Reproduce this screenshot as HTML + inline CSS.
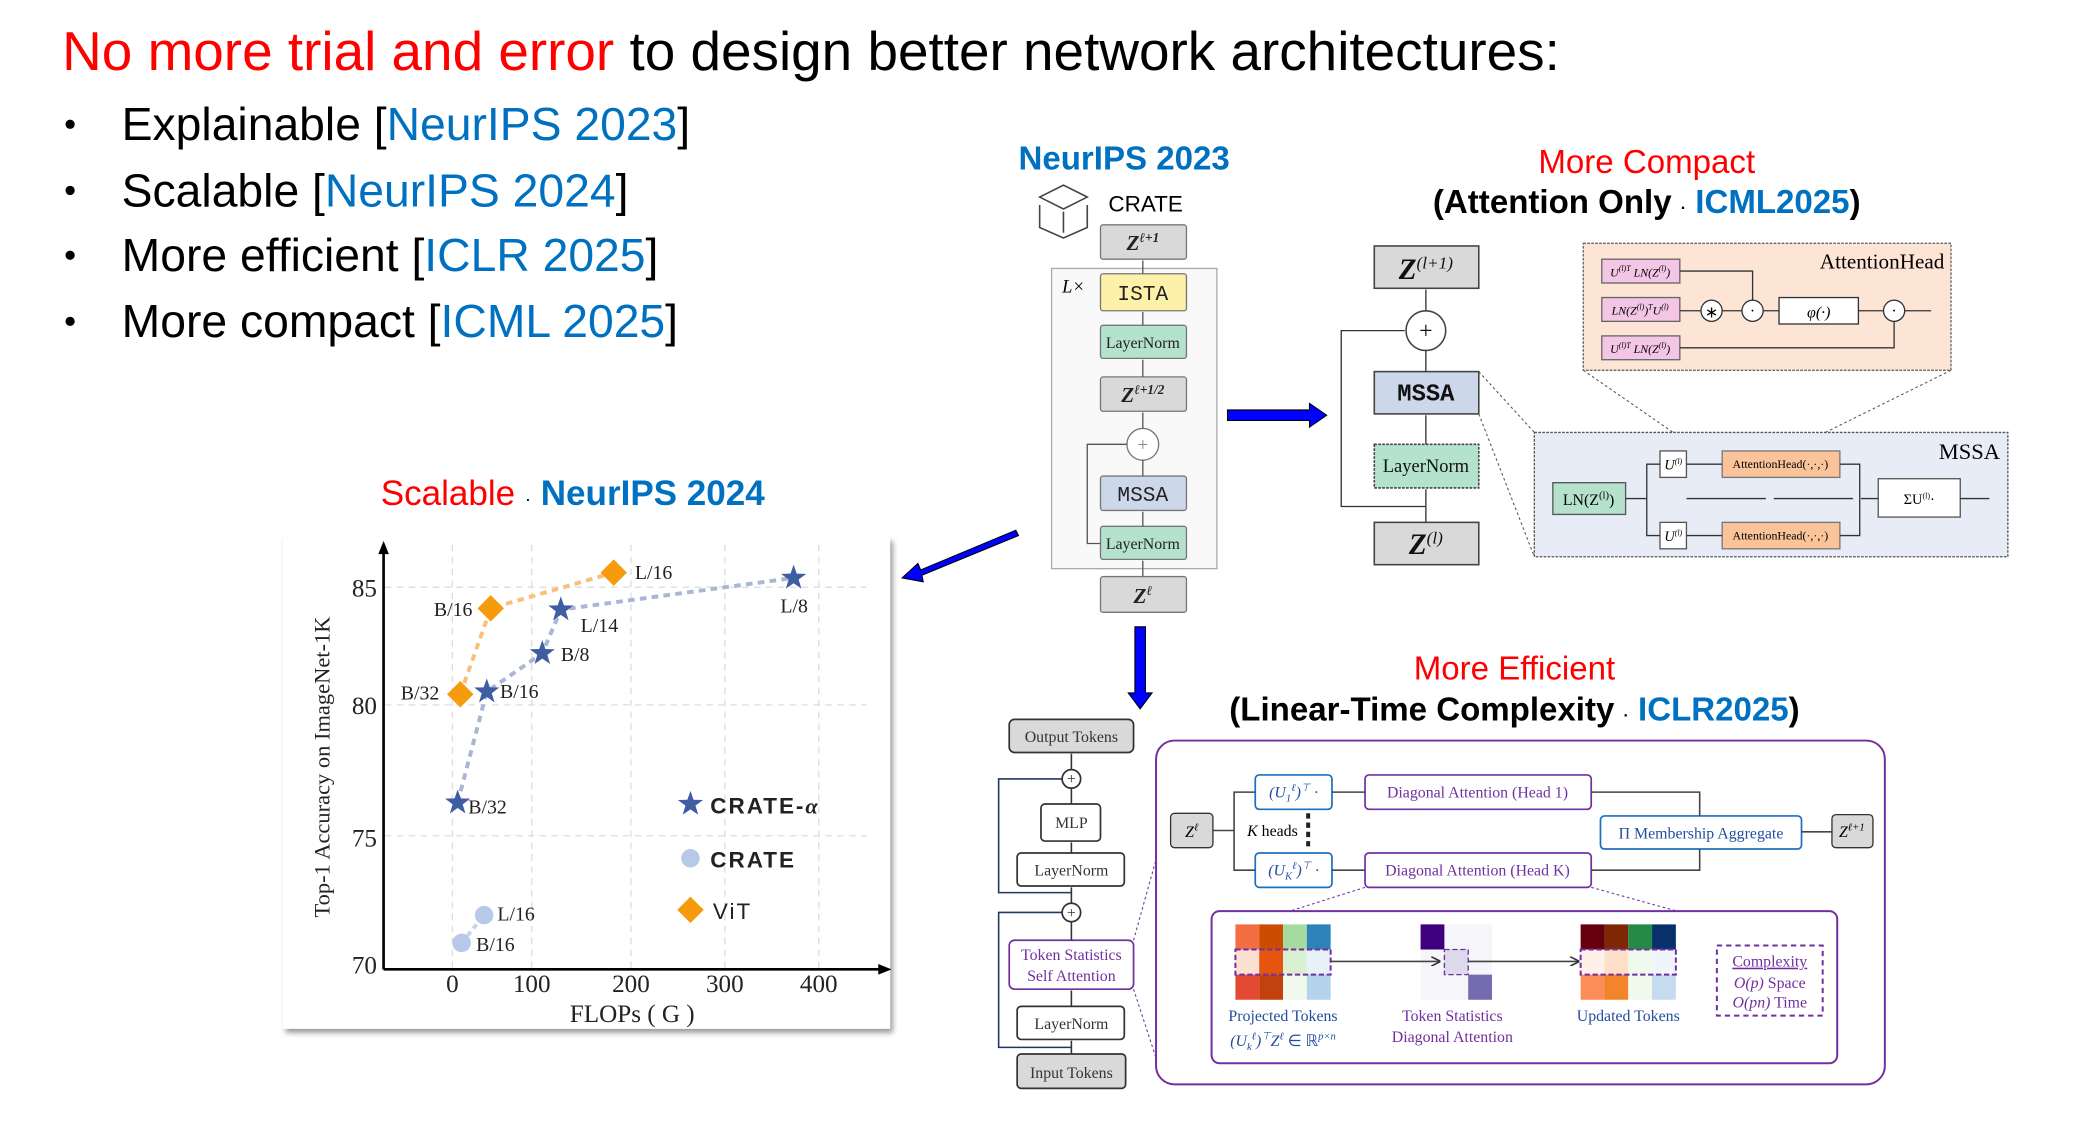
<!DOCTYPE html>
<html><head><meta charset="utf-8"><style>
html,body{margin:0;padding:0;background:#fff;width:2074px;height:1132px;overflow:hidden}
svg{display:block}
.s{font-family:"Liberation Sans",Arial,sans-serif}
.r{font-family:"Liberation Serif","Times New Roman",serif}
.m{font-family:"Liberation Mono",monospace}
</style></head><body>
<svg width="2074" height="1132" viewBox="0 0 1568 856" preserveAspectRatio="none" xmlns="http://www.w3.org/2000/svg">
<defs>
<polygon id="st" points="0,-10 2.35,-3.24 9.51,-3.09 3.8,1.24 5.88,8.09 0,4 -5.88,8.09 -3.8,1.24 -9.51,-3.09 -2.35,-3.24" fill="#3e5da3"/>
<polygon id="dm" points="0,-10 10,0 0,10 -10,0" fill="#f59b0c"/>
<marker id="ap" markerWidth="6" markerHeight="6" refX="5" refY="3" orient="auto"><path d="M0,0 L6,3 L0,6" fill="none" stroke="#333" stroke-width="1"/></marker>
<filter id="sh"><feDropShadow dx="2" dy="3" stdDeviation="2" flood-color="#999"/></filter>
</defs>

<!-- Title -->
<text x="47" y="53" class="s" font-size="41.5" fill="#000"><tspan fill="#f00">No more trial and error</tspan> to design better network architectures:</text>
<g class="s" font-size="35">
<circle cx="53" cy="94" r="3.5" fill="#000"/><circle cx="53" cy="144" r="3.5" fill="#000"/><circle cx="53" cy="193" r="3.5" fill="#000"/><circle cx="53" cy="243" r="3.5" fill="#000"/>
<text x="92" y="106">Explainable [<tspan fill="#0070c0">NeurIPS 2023</tspan>]</text>
<text x="92" y="156">Scalable [<tspan fill="#0070c0">NeurIPS 2024</tspan>]</text>
<text x="92" y="205">More efficient [<tspan fill="#0070c0">ICLR 2025</tspan>]</text>
<text x="92" y="255">More compact [<tspan fill="#0070c0">ICML 2025</tspan>]</text>
</g>

<!-- Scalable heading -->
<text x="433" y="382" class="s" font-size="26.5" text-anchor="middle"><tspan fill="#f00">Scalable</tspan> <tspan font-size="14">·</tspan> <tspan fill="#0070c0" font-weight="bold">NeurIPS 2024</tspan></text>

<!-- Chart -->
<rect x="214" y="406" width="459" height="372" fill="#fff" filter="url(#sh)"/>
<g stroke="#ddd" stroke-dasharray="5,4" stroke-width="1">
<line x1="291" y1="444" x2="655" y2="444"/><line x1="291" y1="533" x2="655" y2="533"/><line x1="291" y1="632" x2="655" y2="632"/>
<line x1="342" y1="412" x2="342" y2="733"/><line x1="402" y1="412" x2="402" y2="733"/><line x1="477" y1="412" x2="477" y2="733"/><line x1="548" y1="412" x2="548" y2="733"/><line x1="619" y1="412" x2="619" y2="733"/>
</g>
<line x1="290" y1="733" x2="290" y2="416" stroke="#000" stroke-width="2"/>
<polygon points="290,409 286,419 294,419" fill="#000"/>
<line x1="290" y1="733" x2="667" y2="733" stroke="#000" stroke-width="2"/>
<polygon points="674,733 664,729 664,737" fill="#000"/>
<g class="r" font-size="19" fill="#222">
<text x="285" y="451" text-anchor="end">85</text><text x="285" y="540" text-anchor="end">80</text><text x="285" y="640" text-anchor="end">75</text><text x="285" y="736" text-anchor="end">70</text>
<text x="342" y="750" text-anchor="middle">0</text><text x="402" y="750" text-anchor="middle">100</text><text x="477" y="750" text-anchor="middle">200</text><text x="548" y="750" text-anchor="middle">300</text><text x="619" y="750" text-anchor="middle">400</text>
<text x="478" y="773" text-anchor="middle">FLOPs ( G )</text>
<text transform="translate(249,580) rotate(-90)" text-anchor="middle" font-size="17">Top-1 Accuracy on ImageNet-1K</text>
</g>
<polyline points="348,525 371,460 464,433" fill="none" stroke="#f8c07a" stroke-width="3" stroke-dasharray="5,4"/>
<polyline points="346,607 368,523 410,494 424,461 600,437" fill="none" stroke="#a9b6d6" stroke-width="3" stroke-dasharray="5,4"/>
<line x1="349" y1="713" x2="366" y2="692" stroke="#c8d4ec" stroke-width="3" stroke-dasharray="4,3"/>
<use href="#dm" x="348" y="525"/><use href="#dm" x="371" y="460"/><use href="#dm" x="464" y="433"/>
<use href="#st" x="346" y="607"/><use href="#st" x="368" y="523"/><use href="#st" x="410" y="494"/><use href="#st" x="424" y="461"/><use href="#st" x="600" y="437"/>
<circle cx="349" cy="713" r="7" fill="#b8c8e8"/><circle cx="366" cy="692" r="7" fill="#b8c8e8"/>
<g class="r" font-size="15" fill="#222">
<text x="480" y="438">L/16</text><text x="328" y="466">B/16</text><text x="303" y="529">B/32</text>
<text x="590" y="463">L/8</text><text x="439" y="478">L/14</text><text x="424" y="500">B/8</text><text x="378" y="528">B/16</text><text x="354" y="615">B/32</text>
<text x="376" y="696">L/16</text><text x="360" y="719">B/16</text>
</g>
<use href="#st" x="522" y="608"/><circle cx="522" cy="649" r="7" fill="#b8c8e8"/><use href="#dm" x="522" y="688"/>
<g class="s" font-size="17" font-weight="bold" fill="#222" letter-spacing="1.5">
<text x="537" y="615">CRATE-<tspan font-family="Liberation Serif" font-style="italic">α</tspan></text><text x="537" y="656">CRATE</text><text x="539" y="695" font-weight="normal">ViT</text>
</g>

<!-- Blue arrows -->
<polygon points="768,401 696,431 694,426 682,437 698,440 697,435 770,405" fill="#0000ff" stroke="#000" stroke-width="0.8"/>
<polygon points="928,310 990,310 990,305 1003,314 990,323 990,318 928,318" fill="#0000ff" stroke="#000" stroke-width="0.8"/>
<polygon points="858,474 866,474 866,524 871,524 862,536 853,524 858,524" fill="#0000ff" stroke="#000" stroke-width="0.8"/>

<!-- CRATE column -->
<text x="770" y="128" class="s" font-size="25" font-weight="bold" fill="#0070c0">NeurIPS 2023</text>
<g fill="none" stroke="#444" stroke-width="1.2"><polygon points="786,149 804,140 822,149 804,158"/><polyline points="786,155 786,172 804,180 822,172 822,155"/><line x1="804" y1="160" x2="804" y2="176"/></g>
<text x="838" y="160" class="s" font-size="17">CRATE</text>
<rect x="795" y="203" width="125" height="227" fill="#f9f9f9" stroke="#aaa"/>
<text x="803" y="221" class="r" font-size="14" font-style="italic">L×</text>
<g stroke="#777" stroke-width="1">
<rect x="832" y="170" width="65" height="26" rx="2" fill="#d9d9d9"/>
<rect x="832" y="207" width="65" height="28" rx="2" fill="#fdf0a8"/>
<rect x="832" y="246" width="65" height="25" rx="2" fill="#b4e2cc"/>
<rect x="832" y="285" width="65" height="26" rx="2" fill="#d9d9d9"/>
<circle cx="864" cy="336" r="12" fill="#fff"/>
<rect x="832" y="360" width="65" height="26" rx="2" fill="#cdd7ea"/>
<rect x="832" y="398" width="65" height="25" rx="2" fill="#b4e2cc"/>
<rect x="832" y="436" width="65" height="27" rx="2" fill="#d9d9d9"/>
</g>
<g stroke="#555" stroke-width="1" fill="none">
<line x1="864" y1="436" x2="864" y2="424"/><line x1="864" y1="398" x2="864" y2="387"/><line x1="864" y1="360" x2="864" y2="348"/><line x1="864" y1="324" x2="864" y2="312"/><line x1="864" y1="285" x2="864" y2="272"/><line x1="864" y1="246" x2="864" y2="236"/><line x1="864" y1="207" x2="864" y2="197"/>
<polyline points="832,411 822,411 822,336 852,336"/>
</g>
<g class="r" text-anchor="middle" fill="#222">
<text x="864" y="189" font-size="16" font-weight="bold" font-style="italic">Z<tspan font-size="10" dy="-6">ℓ+1</tspan></text>
<text x="864" y="227" class="m" font-size="16">ISTA</text>
<text x="864" y="263" font-size="12">LayerNorm</text>
<text x="864" y="304" font-size="16" font-weight="bold" font-style="italic">Z<tspan font-size="10" dy="-6">ℓ+1/2</tspan></text>
<text x="864" y="341" font-size="14" fill="#888">+</text>
<text x="864" y="379" class="m" font-size="16">MSSA</text>
<text x="864" y="415" font-size="12">LayerNorm</text>
<text x="864" y="456" font-size="16" font-weight="bold" font-style="italic">Z<tspan font-size="10" dy="-6">ℓ</tspan></text>
</g>

<!-- More compact -->
<text x="1245" y="131" class="s" font-size="25" text-anchor="middle" fill="#f00">More Compact</text>
<text x="1245" y="161" class="s" font-size="25" text-anchor="middle" font-weight="bold">(Attention Only <tspan font-size="12">·</tspan> <tspan fill="#0070c0">ICML2025</tspan>)</text>
<g stroke="#444" stroke-width="1.2">
<rect x="1039" y="186" width="79" height="32" fill="#d9d9d9"/>
<circle cx="1078" cy="250" r="15" fill="#fff"/>
<rect x="1039" y="281" width="79" height="32" fill="#cdd7ea"/>
<rect x="1039" y="336" width="79" height="33" fill="#b4e2cc" stroke-dasharray="2,1"/>
<rect x="1039" y="395" width="79" height="32" fill="#d9d9d9"/>
</g>
<g stroke="#333" stroke-width="1" fill="none">
<line x1="1078" y1="395" x2="1078" y2="370"/><line x1="1078" y1="336" x2="1078" y2="314"/><line x1="1078" y1="281" x2="1078" y2="265"/><line x1="1078" y1="235" x2="1078" y2="219"/>
<polyline points="1078,383 1014,383 1014,250 1062,250"/>
</g>
<g class="r" text-anchor="middle" fill="#111">
<text x="1078" y="211" font-size="22" font-style="italic" font-weight="bold">Z<tspan font-size="13" dy="-8" font-weight="normal">(l+1)</tspan></text>
<text x="1078" y="256" font-size="18">+</text>
<text x="1078" y="303" class="m" font-size="18" font-weight="bold">MSSA</text>
<text x="1078" y="357" font-size="14">LayerNorm</text>
<text x="1078" y="419" font-size="22" font-style="italic" font-weight="bold">Z<tspan font-size="13" dy="-8" font-weight="normal">(l)</tspan></text>
</g>
<g stroke="#555" stroke-dasharray="2,2" fill="none" stroke-width="0.8">
<line x1="1118" y1="281" x2="1160" y2="327"/><line x1="1118" y1="313" x2="1160" y2="421"/>
<line x1="1197" y1="280" x2="1265" y2="327"/><line x1="1475" y1="280" x2="1380" y2="327"/>
</g>
<rect x="1197" y="184" width="278" height="96" fill="#fce5d5" stroke="#666" stroke-dasharray="2,1"/>
<text x="1470" y="203" class="r" font-size="16" text-anchor="end">AttentionHead</text>
<g stroke="#666" fill="#f4c6e6"><rect x="1211" y="196" width="59" height="18"/><rect x="1211" y="225" width="59" height="18"/><rect x="1211" y="254" width="59" height="18"/></g>
<g class="r" font-size="9" font-style="italic" text-anchor="middle"><text x="1240" y="209">U<tspan font-size="6" dy="-4">(l)T</tspan><tspan dy="4"> LN(Z</tspan><tspan font-size="6" dy="-4">(l)</tspan><tspan dy="4">)</tspan></text><text x="1240" y="238">LN(Z<tspan font-size="6" dy="-4">(l)</tspan><tspan dy="4">)</tspan><tspan font-size="6" dy="-4">T</tspan><tspan dy="4">U</tspan><tspan font-size="6" dy="-4">(l)</tspan></text><text x="1240" y="267">U<tspan font-size="6" dy="-4">(l)T</tspan><tspan dy="4"> LN(Z</tspan><tspan font-size="6" dy="-4">(l)</tspan><tspan dy="4">)</tspan></text></g>
<g stroke="#333" fill="#fff" stroke-width="1"><circle cx="1294" cy="235" r="8"/><circle cx="1325" cy="235" r="8"/><rect x="1345" y="225" width="60" height="20"/><circle cx="1432" cy="235" r="8"/></g>
<g class="r" font-size="12" text-anchor="middle"><text x="1294" y="240">∗</text><text x="1325" y="239">·</text><text x="1375" y="240" font-style="italic">φ(·)</text><text x="1432" y="239">·</text></g>
<g stroke="#333" fill="none" stroke-width="1">
<polyline points="1270,205 1325,205 1325,227"/><line x1="1270" y1="235" x2="1286" y2="235"/><line x1="1302" y1="235" x2="1317" y2="235"/><line x1="1333" y1="235" x2="1345" y2="235"/><line x1="1405" y1="235" x2="1424" y2="235"/><line x1="1440" y1="235" x2="1460" y2="235"/>
<polyline points="1270,263 1432,263 1432,243"/>
</g>
<rect x="1160" y="327" width="358" height="94" fill="#e8ecf6" stroke="#555" stroke-dasharray="2,1"/>
<text x="1512" y="347" class="r" font-size="17" text-anchor="end">MSSA</text>
<rect x="1174" y="365" width="55" height="24" fill="#b4e2cc" stroke="#555"/>
<text x="1201" y="382" class="r" font-size="12" text-anchor="middle">LN(Z<tspan font-size="8" dy="-5">(l)</tspan><tspan dy="5">)</tspan></text>
<g stroke="#555" fill="#fff"><rect x="1255" y="341" width="20" height="20"/><rect x="1255" y="395" width="20" height="20"/><rect x="1420" y="362" width="62" height="29"/></g>
<g fill="#fbc39a" stroke="#777"><rect x="1302" y="341" width="89" height="20"/><rect x="1302" y="395" width="89" height="20"/></g>
<g class="r" font-size="9" text-anchor="middle"><text x="1346" y="354">AttentionHead(·,·,·)</text><text x="1346" y="408">AttentionHead(·,·,·)</text><text x="1265" y="355" font-style="italic" font-size="11">U<tspan font-size="6" dy="-4">(l)</tspan></text><text x="1265" y="409" font-style="italic" font-size="11">U<tspan font-size="6" dy="-4">(l)</tspan></text><text x="1451" y="381" font-size="11">ΣU<tspan font-size="6" dy="-4">(l)</tspan><tspan dy="4">·</tspan></text></g>
<g stroke="#333" fill="none" stroke-width="1">
<line x1="1229" y1="377" x2="1245" y2="377"/><polyline points="1255,351 1245,351 1245,405 1255,405"/>
<line x1="1275" y1="351" x2="1302" y2="351"/><line x1="1275" y1="405" x2="1302" y2="405"/>
<line x1="1275" y1="377" x2="1420" y2="377" stroke-dasharray="60,6"/>
<polyline points="1391,351 1406,351 1406,405 1391,405"/><line x1="1482" y1="377" x2="1504" y2="377"/>
</g>

<!-- More efficient -->
<text x="1145" y="514" class="s" font-size="25" text-anchor="middle" fill="#f00">More Efficient</text>
<text x="1145" y="545" class="s" font-size="25" text-anchor="middle" font-weight="bold">(Linear-Time Complexity <tspan font-size="12">·</tspan> <tspan fill="#0070c0">ICLR2025</tspan>)</text>
<g stroke="#333" stroke-width="1.3">
<rect x="763" y="544" width="94" height="25" rx="4" fill="#d9d9d9"/>
<circle cx="810" cy="589" r="7" fill="#fff"/>
<rect x="787" y="608" width="45" height="28" rx="3" fill="#fff"/>
<rect x="769" y="645" width="81" height="25" rx="3" fill="#fff"/>
<circle cx="810" cy="690" r="7" fill="#fff"/>
<rect x="763" y="711" width="94" height="37" rx="4" fill="#fff" stroke="#7030a0"/>
<rect x="769" y="761" width="81" height="25" rx="3" fill="#fff"/>
<rect x="769" y="797" width="82" height="26" rx="3" fill="#d9d9d9"/>
</g>
<g stroke="#333" fill="none" stroke-width="1.2">
<line x1="810" y1="797" x2="810" y2="787"/><line x1="810" y1="761" x2="810" y2="749"/><line x1="810" y1="711" x2="810" y2="697"/><line x1="810" y1="683" x2="810" y2="671"/><line x1="810" y1="645" x2="810" y2="637"/><line x1="810" y1="608" x2="810" y2="596"/><line x1="810" y1="582" x2="810" y2="570"/>
<polyline points="810,792 755,792 755,690 803,690" stroke="#1f3864"/><polyline points="810,675 755,675 755,589 803,589" stroke="#1f3864"/>
</g>
<g class="r" text-anchor="middle" font-size="12" fill="#333">
<text x="810" y="561">Output Tokens</text><text x="810" y="593">+</text><text x="810" y="626">MLP</text><text x="810" y="662">LayerNorm</text><text x="810" y="694">+</text>
<text x="810" y="726" fill="#7030a0">Token Statistics</text><text x="810" y="742" fill="#7030a0">Self Attention</text>
<text x="810" y="778">LayerNorm</text><text x="810" y="815">Input Tokens</text>
</g>
<g stroke="#7030a0" stroke-dasharray="2,2" stroke-width="0.8"><line x1="857" y1="711" x2="874" y2="650"/><line x1="857" y1="748" x2="874" y2="800"/></g>
<rect x="874" y="560" width="551" height="260" rx="14" fill="#fff" stroke="#7030a0" stroke-width="1.5"/>
<rect x="885" y="615" width="32" height="26" rx="3" fill="#d9d9d9" stroke="#333"/>
<g stroke="#1f6fbf" stroke-width="1.3" fill="#fff"><rect x="949" y="586" width="58" height="26" rx="3"/><rect x="949" y="645" width="58" height="26" rx="3"/><rect x="1210" y="617" width="152" height="25" rx="3"/></g>
<g stroke="#7030a0" stroke-width="1.3" fill="#fff"><rect x="1032" y="586" width="171" height="26" rx="3"/><rect x="1032" y="645" width="171" height="26" rx="3"/></g>
<rect x="1385" y="616" width="31" height="25" rx="3" fill="#d9d9d9" stroke="#333"/>
<g stroke="#444" fill="none" stroke-width="1.2">
<line x1="917" y1="628" x2="933" y2="628"/><polyline points="949,599 933,599 933,658 949,658"/><line x1="1007" y1="599" x2="1032" y2="599"/><line x1="1007" y1="658" x2="1032" y2="658"/>
<polyline points="1203,599 1285,599 1285,617"/><polyline points="1203,658 1285,658 1285,642"/><line x1="1362" y1="629" x2="1385" y2="629"/>
</g>
<line x1="989" y1="615" x2="989" y2="640" stroke="#222" stroke-width="3" stroke-dasharray="4,3"/>
<g class="r" text-anchor="middle" font-size="12">
<text x="901" y="633" font-style="italic">Z<tspan font-size="8" dy="-5">ℓ</tspan></text>
<text x="978" y="603" fill="#1f4e9f" font-style="italic">(U<tspan font-size="8" dy="3">1</tspan><tspan font-size="8" dy="-8">ℓ</tspan><tspan dy="5">)</tspan><tspan font-size="8" dy="-5">⊤</tspan><tspan dy="5"> ·</tspan></text>
<text x="978" y="662" fill="#1f4e9f" font-style="italic">(U<tspan font-size="8" dy="3">K</tspan><tspan font-size="8" dy="-8">ℓ</tspan><tspan dy="5">)</tspan><tspan font-size="8" dy="-5">⊤</tspan><tspan dy="5"> ·</tspan></text>
<text x="1117" y="603" fill="#7030a0">Diagonal Attention (Head 1)</text>
<text x="1117" y="662" fill="#7030a0">Diagonal Attention (Head K)</text>
<text x="1286" y="634" fill="#1f4e9f">Π Membership Aggregate</text>
<text x="1400" y="633" font-style="italic">Z<tspan font-size="8" dy="-5">ℓ+1</tspan></text>
<text x="962" y="632"><tspan font-style="italic">K</tspan> heads</text>
</g>
<g stroke="#7030a0" stroke-dasharray="2,2" stroke-width="0.8"><line x1="1032" y1="671" x2="975" y2="689"/><line x1="1203" y1="671" x2="1268" y2="689"/></g>
<rect x="916" y="689" width="473" height="115" rx="6" fill="#fff" stroke="#7030a0" stroke-width="1.5"/>
<g>
<rect x="934" y="699" width="18" height="19" fill="#f46d43"/><rect x="952" y="699" width="18" height="19" fill="#cc4c02"/><rect x="970" y="699" width="18" height="19" fill="#a6dba0"/><rect x="988" y="699" width="18" height="19" fill="#2b83ba"/>
<rect x="934" y="718" width="18" height="19" fill="#fde0d2"/><rect x="952" y="718" width="18" height="19" fill="#e6550d"/><rect x="970" y="718" width="18" height="19" fill="#d9f0d3"/><rect x="988" y="718" width="18" height="19" fill="#e8f0f8"/>
<rect x="934" y="737" width="18" height="19" fill="#e34a33"/><rect x="952" y="737" width="18" height="19" fill="#c2410c"/><rect x="970" y="737" width="18" height="19" fill="#f0f9ec"/><rect x="988" y="737" width="18" height="19" fill="#b3d4ea"/>
<rect x="934" y="718" width="72" height="19" fill="none" stroke="#7030a0" stroke-width="1.5" stroke-dasharray="4,2"/>
<rect x="1074" y="699" width="54" height="57" fill="#f6f5fa"/><rect x="1074" y="699" width="18" height="19" fill="#3f007d"/><rect x="1092" y="718" width="18" height="19" fill="#dadaeb" stroke="#7030a0" stroke-dasharray="4,2"/><rect x="1110" y="737" width="18" height="19" fill="#756bb1"/>
<rect x="1195" y="699" width="18" height="19" fill="#67000d"/><rect x="1213" y="699" width="18" height="19" fill="#7f2704"/><rect x="1231" y="699" width="18" height="19" fill="#238b45"/><rect x="1249" y="699" width="18" height="19" fill="#08306b"/>
<rect x="1195" y="718" width="18" height="19" fill="#fff0ea"/><rect x="1213" y="718" width="18" height="19" fill="#fee0c8"/><rect x="1231" y="718" width="18" height="19" fill="#f0f9ee"/><rect x="1249" y="718" width="18" height="19" fill="#f0f5fb"/>
<rect x="1195" y="737" width="18" height="19" fill="#fc8d59"/><rect x="1213" y="737" width="18" height="19" fill="#f4842b"/><rect x="1231" y="737" width="18" height="19" fill="#f0f9ec"/><rect x="1249" y="737" width="18" height="19" fill="#c6dbef"/>
<rect x="1195" y="718" width="72" height="19" fill="none" stroke="#7030a0" stroke-width="1.5" stroke-dasharray="4,2"/>
</g>
<g stroke="#444" stroke-width="1.2"><line x1="1006" y1="727" x2="1088" y2="727" marker-end="url(#ap)"/><line x1="1110" y1="727" x2="1193" y2="727" marker-end="url(#ap)"/></g>
<rect x="1298" y="715" width="80" height="53" fill="#fff" stroke="#7030a0" stroke-width="1.5" stroke-dasharray="4,3"/>
<g class="r" text-anchor="middle" font-size="12" fill="#1f4e9f">
<text x="970" y="772">Projected Tokens</text>
<text x="970" y="791" font-style="italic">(U<tspan font-size="8" dy="3">k</tspan><tspan font-size="8" dy="-8">ℓ</tspan><tspan dy="5">)</tspan><tspan font-size="8" dy="-5">⊤</tspan><tspan dy="5">Z</tspan><tspan font-size="8" dy="-5">ℓ</tspan><tspan dy="5" font-style="normal"> ∈ ℝ</tspan><tspan font-size="8" dy="-5">p×n</tspan></text>
<text x="1231" y="772">Updated Tokens</text>
</g>
<g class="r" text-anchor="middle" font-size="12" fill="#7030a0">
<text x="1098" y="772">Token Statistics</text><text x="1098" y="788">Diagonal Attention</text>
<text x="1338" y="731" text-decoration="underline">Complexity</text><text x="1338" y="747"><tspan font-style="italic">O(p)</tspan> Space</text><text x="1338" y="762"><tspan font-style="italic">O(pn)</tspan> Time</text>
</g>
</svg>
</body></html>
